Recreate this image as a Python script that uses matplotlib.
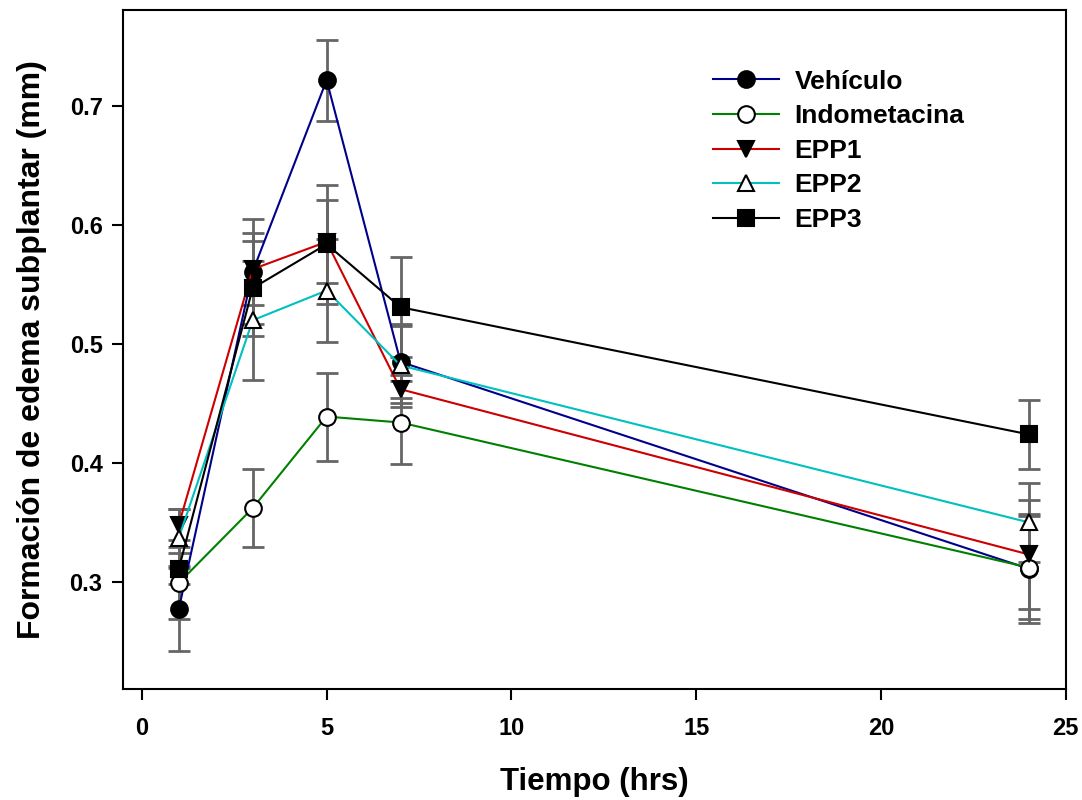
import matplotlib
matplotlib.use('Agg')
import matplotlib.pyplot as plt

plt.rcParams['font.family'] = ['Liberation Sans', 'DejaVu Sans']
plt.rcParams['font.weight'] = 'bold'

tiempo = [1, 3, 5, 7, 24]

vehiculo = [0.277, 0.561, 0.722, 0.485, 0.311]
vehiculo_err = [0.035, 0.044, 0.034, 0.030, 0.046]

indometacina = [0.299, 0.362, 0.439, 0.434, 0.312]
indometacina_err = [0.030, 0.033, 0.037, 0.035, 0.043]

epp1 = [0.348, 0.563, 0.586, 0.462, 0.323]
epp1_err = [0.013, 0.030, 0.035, 0.012, 0.046]

epp2 = [0.337, 0.520, 0.545, 0.482, 0.350]
epp2_err = [0.024, 0.050, 0.043, 0.035, 0.033]

epp3 = [0.311, 0.547, 0.584, 0.531, 0.424]
epp3_err = [0.013, 0.040, 0.050, 0.042, 0.029]

series = [
    ('Vehículo', vehiculo, vehiculo_err, '#00008b', 'o', 'black'),
    ('Indometacina', indometacina, indometacina_err, '#008000', 'o', 'white'),
    ('EPP1', epp1, epp1_err, '#cc0000', 'v', 'black'),
    ('EPP2', epp2, epp2_err, '#00c0c0', '^', 'white'),
    ('EPP3', epp3, epp3_err, 'black', 's', 'black'),
]

fig, ax = plt.subplots(figsize=(10.82, 8), dpi=100)
fig.subplots_adjust(left=0.114, right=0.985, top=0.9875, bottom=0.139)

for name, vals, errs, color, marker, face in series:
    ax.errorbar(tiempo, vals, yerr=errs, fmt='none', ecolor='#666666',
                elinewidth=2, capsize=8, capthick=2, zorder=2)
    ax.plot(tiempo, vals, color=color, lw=1.5, marker=marker, markersize=12,
            markerfacecolor=face, markeredgecolor='black', markeredgewidth=1.5,
            label=name, zorder=3)

ax.set_xlim(-0.5, 25)
ax.set_ylim(0.21, 0.781)
ax.set_xticks([0, 5, 10, 15, 20, 25])
ax.set_yticks([0.3, 0.4, 0.5, 0.6, 0.7])
ax.tick_params(direction='out', length=8, width=1.5, labelsize=17)
ax.tick_params(axis='x', pad=12)
ax.tick_params(axis='y', pad=7)
for s in ax.spines.values():
    s.set_linewidth(1.5)

ax.set_xlabel('Tiempo (hrs)', fontsize=22.5, fontweight='bold', labelpad=20)
ax.set_ylabel('Formación de edema subplantar (mm)', fontsize=23,
              fontweight='bold', labelpad=16)

leg = ax.legend(loc='upper left', bbox_to_anchor=(0.6, 0.947), frameon=False,
                handlelength=2.5, labelspacing=0.4,
                handletextpad=0.6, prop={'weight': 'bold', 'size': 19})

fig.savefig('out.png', dpi=100)
